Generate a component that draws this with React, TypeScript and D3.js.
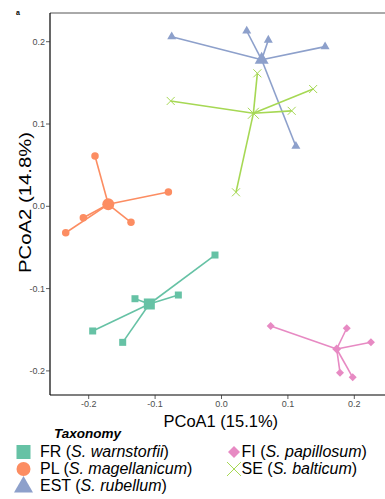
import React from "react";
import * as d3 from "d3";

const groups = ["FR", "PL", "EST", "FI", "SE"];
const species = ["S. warnstorfii", "S. magellanicum", "S. rubellum", "S. papillosum", "S. balticum"];
const colors = ["#66C2A5", "#FC8D62", "#8DA0CB", "#E78AC3", "#A6D854"];

const frX = [-0.0098, -0.065, -0.1303, -0.194, -0.1488];
const frY = [-0.0592, -0.1078, -0.1123, -0.1515, -0.1653];
const plX = [-0.1905, -0.08, -0.1363, -0.2081, -0.2346];
const plY = [0.0611, 0.0174, -0.0194, -0.0139, -0.0321];
const estX = [-0.075, 0.038, 0.0705, 0.156, 0.112];
const estY = [0.206, 0.213, 0.202, 0.194, 0.073];
const fiX = [0.0741, 0.1886, 0.2251, 0.1785, 0.1976];
const fiY = [-0.1454, -0.1482, -0.1652, -0.2022, -0.2078];
const seX = [-0.0765, 0.054, 0.138, 0.1057, 0.0218];
const seY = [0.128, 0.1616, 0.1425, 0.116, 0.017];

const centX = [-0.1087, -0.1705, 0.0605, 0.1735, 0.048];
const centY = [-0.1187, 0.0024, 0.178, -0.1734, 0.113];

const xTicks = [-0.2, -0.1, 0.0, 0.1, 0.2];
const yTicks = [-0.2, -0.1, 0.0, 0.1, 0.2];

const allX = [frX, plX, estX, fiX, seX];
const allY = [frY, plY, estY, fiY, seY];

const W = 385, H = 499;
const L = 50, R = 388, T = 13, B = 395;

const x = d3.scaleLinear().domain([0, 0.1]).range([221.5, 221.5 + 66.4]);
const y = d3.scaleLinear().domain([0, 0.1]).range([206.3, 206.3 - 82.3]);

function Marker({ g, cx, cy, s, color }: { g: number; cx: number; cy: number; s: number; color: string }) {
  if (g === 0) return <rect x={cx - s / 2} y={cy - s / 2} width={s} height={s} fill={color} />;
  if (g === 1) return <circle cx={cx} cy={cy} r={s / 2} fill={color} />;
  if (g === 2) {
    const h = s * 0.866;
    return (
      <path d={`M${cx},${cy - (2 * h) / 3}L${cx + s / 2},${cy + h / 3}L${cx - s / 2},${cy + h / 3}Z`} fill={color} />
    );
  }
  if (g === 3) {
    const r = s / 2;
    return <path d={`M${cx},${cy - r}L${cx + r},${cy}L${cx},${cy + r}L${cx - r},${cy}Z`} fill={color} />;
  }
  const r = s / 2;
  return (
    <path d={`M${cx - r},${cy - r}L${cx + r},${cy + r}M${cx - r},${cy + r}L${cx + r},${cy - r}`} stroke={color} strokeWidth={1} fill="none" />
  );
}

const ptSize = [7, 7.5, 9, 8, 8];
const cSize = [11, 12, 14, 9, 11];
const keySize = [14, 14, 19, 12, 14];

export default function App() {
  const font = "Liberation Sans, Arial, sans-serif";
  return (
    <svg width={W} height={H} style={{ position: "absolute", left: 0, top: 0 }} fontFamily={font}>
      <rect x={0} y={0} width={W} height={H} fill="white" />
      <text x={16} y={15} fontSize={7} fontWeight="bold">a</text>
      {/* panel border */}
      <line x1={L} x2={R} y1={T} y2={T} stroke="#555" strokeWidth={1} />
      <line x1={L} x2={L} y1={T} y2={B} stroke="black" strokeWidth={1.2} />
      <line x1={L} x2={R} y1={B} y2={B} stroke="black" strokeWidth={1.2} />
      {/* ticks */}
      {yTicks.map((t) => (
        <g key={"y" + t}>
          <line x1={L - 4} x2={L} y1={y(t)} y2={y(t)} stroke="#333" strokeWidth={0.8} />
          <text x={L - 5} y={y(t) + 3} fontSize={9} fill="#4D4D4D" textAnchor="end">
            {t.toFixed(1)}
          </text>
        </g>
      ))}
      {xTicks.map((t) => (
        <g key={"x" + t}>
          <line x1={x(t)} x2={x(t)} y1={B} y2={B + 4} stroke="#333" strokeWidth={0.8} />
          <text x={x(t)} y={B + 12} fontSize={9} fill="#4D4D4D" textAnchor="middle">
            {t.toFixed(1)}
          </text>
        </g>
      ))}
      <text x={220.8} y={426.5} fontSize={16.5} textAnchor="middle">PCoA1 (15.1%)</text>
      <text transform={`translate(30.5,202.5) rotate(-90)`} fontSize={17} textAnchor="middle" textLength={141} lengthAdjust="spacingAndGlyphs">PCoA2 (14.8%)</text>
      {/* segments */}
      {groups.map((g, gi) => (
        <g key={"s" + g}>
          {allX[gi].map((vx, i) => (
            <line key={i} x1={x(centX[gi])} y1={y(centY[gi])} x2={x(vx)} y2={y(allY[gi][i])} stroke={colors[gi]} strokeWidth={1.6} />
          ))}
        </g>
      ))}
      {/* points */}
      {groups.map((g, gi) => (
        <g key={"p" + g}>
          {allX[gi].map((vx, i) => (
            <Marker key={i} g={gi} cx={x(vx)} cy={y(allY[gi][i])} s={ptSize[gi]} color={colors[gi]} />
          ))}
          <Marker g={gi} cx={x(centX[gi])} cy={y(centY[gi])} s={cSize[gi]} color={colors[gi]} />
        </g>
      ))}
      {/* legend */}
      <text x={54} y={438} fontSize={13.5} fontWeight="bold" fontStyle="italic">Taxonomy</text>
      {groups.map((g, gi) => {
        const col = gi < 3 ? 0 : 1;
        const row = gi < 3 ? gi : gi - 3;
        const kx = col === 0 ? 23.5 : 234;
        const tx = col === 0 ? 40 : 241.5;
        const ky = [452, 469, 486][row];
        return (
          <g key={"l" + g}>
            <Marker g={gi} cx={kx} cy={gi === 2 ? ky + 1 : ky} s={keySize[gi]} color={colors[gi]} />
            <text x={tx} y={ky + 5} fontSize={16}>
              {g} (<tspan fontStyle="italic">{species[gi]}</tspan>)
            </text>
          </g>
        );
      })}
    </svg>
  );
}
